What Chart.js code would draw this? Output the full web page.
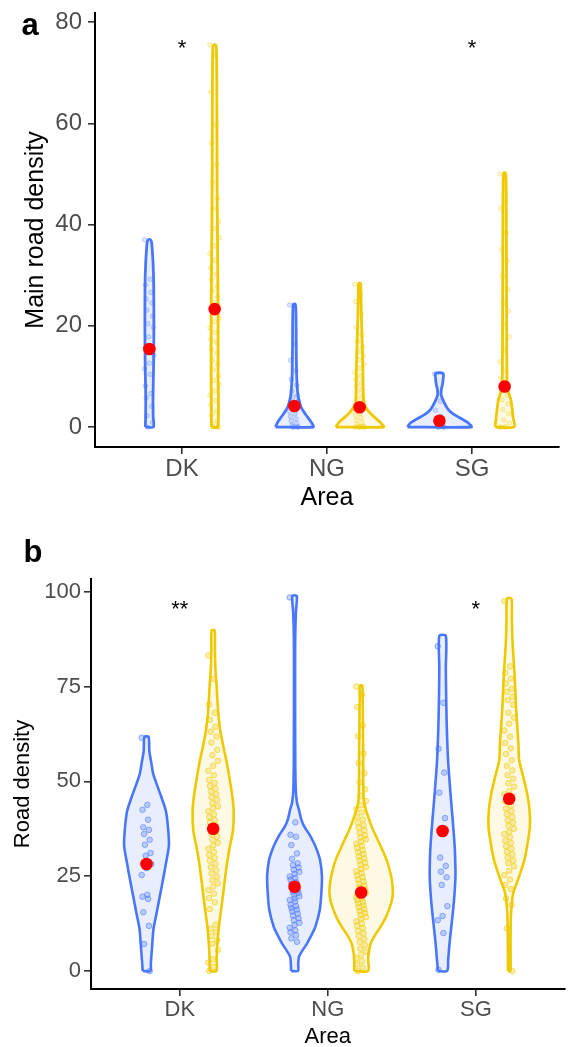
<!DOCTYPE html>
<html>
<head>
<meta charset="utf-8">
<script src="https://cdn.jsdelivr.net/npm/chart.js@4.4.1/dist/chart.umd.min.js"></script>
<style>
  html, body { margin: 0; padding: 0; background: #fff; overflow: hidden; }
  canvas { position: absolute; left: 0; }
</style>
</head>
<body>
<canvas id="chartA" width="571" height="520" style="top:0"></canvas>
<canvas id="chartB" width="571" height="540" style="top:520px"></canvas>
<script>
const areas = ["DK", "NG", "SG"];

// panel a: main road density
const mainTicks = [0, 20, 40, 60, 80];
const mainMeansBlue = [15.4, 4.15, 1.25];
const mainMeansGold = [23.3, 3.9, 8.0];
const mainSig = ["*", "", "*"];
const mainSigY = 75.9;

// violin outlines: [value, half width in category units]
const mainViolinBlue = [
  [[0, .028], [2, .026], [6, .025], [12, .029], [20, .031], [28, .030], [32, .026], [35, .020], [36.5, .015], [37, .008]],
  [[0, .13], [1, .115], [2, .09], [3, .065], [4, .045], [5.5, .03], [7, .022], [10, .016], [15, .013], [20, .012], [23.5, .010], [24.3, .005]],
  [[0, .22], [0.8, .2], [1.5, .16], [2.5, .1], [3.5, .06], [5, .03], [6.3, .012], [7.5, .014], [8.5, .022], [9.5, .026], [10.6, .026]]
];
const mainViolinGold = [
  [[0, .022], [10, .024], [20, .024], [30, .022], [40, .019], [50, .017], [60, .016], [70, .015], [75, .012], [75.5, .006]],
  [[0, .165], [1, .14], [2, .1], [3, .065], [4, .04], [5, .028], [8, .024], [12, .022], [16, .018], [20, .014], [25, .010], [28, .008], [28.4, .004]],
  [[0, .066], [2, .058], [4, .05], [5.5, .042], [6.5, .03], [8, .02], [10, .016], [20, .014], [30, .013], [40, .012], [49, .01], [50.2, .005]]
];
const mainPtsBlue = [
  [37.0, 29.2, 28.1, 26.6, 25.3, 24.5, 23.1, 21.9, 20.4, 19.7, 17.8, 14.2, 12.6, 11.5, 10.4, 8.1, 6.6, 5.8, 4.1, 2.2, 0.9, 0.0],
  [24.1, 16.4, 13.2, 11.1, 9.4, 8.2, 7.1, 6.3, 5.9, 5.2, 4.4, 3.9, 3.4, 3.1, 2.6, 2.1, 1.6, 1.2, 0.7, 0.4, 0.0, 0.0, 0.0, 0.0],
  [10.5, 5.1, 3.3, 2.1, 1.4, 0.9, 0.5, 0.2, 0.0, 0.0, 0.0, 0.0]
];
const mainPtsGold = [
  [75.5, 73.4, 66.2, 59.6, 56.1, 51.8, 48.3, 45.2, 43.1, 40.6, 39.2, 37.4, 35.8, 34.3, 32.9, 31.4, 30.2, 29.1, 27.8, 26.9, 25.7, 24.6, 23.8, 22.7, 21.5, 20.8, 19.6, 18.7, 17.4, 16.8, 15.3, 14.6, 13.2, 12.4, 11.3, 10.1, 9.2, 8.4, 7.1, 6.3, 5.2, 4.4, 3.1, 2.3, 1.2, 0.6, 0.0, 0.0, 0.0],
  [28.2, 26.1, 24.8, 22.3, 19.7, 18.2, 16.9, 15.8, 14.9, 14.1, 13.3, 12.4, 11.6, 10.8, 10.1, 9.4, 8.7, 8.1, 7.4, 6.9, 6.2, 5.7, 5.1, 4.6, 4.1, 3.6, 3.2, 2.7, 2.2, 1.8, 1.3, 0.9, 0.5, 0.2, 0.0, 0.0, 0.0, 0.0, 0.0, 0.0],
  [50.0, 44.6, 43.2, 38.4, 35.1, 32.8, 29.7, 27.2, 24.4, 22.9, 20.3, 17.8, 15.2, 12.9, 11.1, 9.6, 8.2, 7.1, 6.3, 5.4, 4.6, 3.4, 2.6, 1.4, 0.8, 0.0, 0.0, 0.0, 0.0]
];

// panel b: road density
const roadTicks = [0, 25, 50, 75, 100];
const roadMeansBlue = [28.2, 22.2, 36.9];
const roadMeansGold = [37.5, 20.7, 45.4];
const roadSig = ["**", "", "*"];
const roadSigY = 96.9;

const roadViolinBlue = [
  [[0, .026], [2, .029], [6, .037], [11, .047], [15, .067], [19.5, .089], [24, .111], [28.5, .132], [33, .151], [37, .147], [42, .132], [46, .099], [50, .062], [52, .045], [55, .032], [58, .019], [61.7, .014]],
  [[0, .023], [2, .025], [3.8, .03], [5.5, .055], [7.3, .085], [9.5, .115], [11.7, .141], [16, .17], [20.5, .181], [25, .185], [29.3, .172], [32, .15], [33.8, .13], [36, .1], [38, .067], [40, .045], [42.5, .03], [44.5, .016], [48, .008], [55, .005], [70, .004], [85, .004], [91, .006], [95, .01], [98.9, .015]],
  [[0, .031], [3, .038], [7.3, .047], [12, .06], [16, .071], [20, .08], [25, .087], [30, .085], [34, .08], [40, .068], [47, .053], [55.7, .037], [65, .028], [73, .024], [80, .022], [88.4, .022]]
];
const roadViolinGold = [
  [[0, .023], [3, .024], [6, .027], [11, .037], [15, .05], [19.5, .065], [24, .079], [28.5, .094], [33, .114], [37, .134], [42, .139], [46, .13], [50, .114], [55, .092], [59, .07], [63, .05], [68, .035], [72, .028], [75, .024], [80, .015], [85, .012], [89.8, .01]],
  [[0, .047], [3, .047], [5, .052], [7.3, .065], [9.5, .095], [11.7, .132], [14, .165], [16.1, .187], [18.5, .207], [20.5, .214], [22.5, .212], [24.9, .203], [29.3, .172], [33.8, .121], [38, .072], [42.5, .032], [45, .018], [50, .014], [56, .014], [65, .012], [72, .01], [75.2, .008]],
  [[0, .008], [6, .009], [11.7, .01], [16.1, .014], [20.5, .027], [24.9, .067], [29.3, .103], [33.8, .125], [38, .14], [42.6, .137], [47, .12], [51.2, .095], [55.7, .067], [60.2, .062], [68.9, .047], [77.6, .037], [86.5, .023], [93, .018], [98.2, .015]]
];
const roadPtsBlue = [
  [61.5, 43.8, 42.5, 39.9, 37.9, 37.2, 36.1, 34.6, 33.3, 31.1, 30.4, 28.2, 27.1, 25.3, 20.1, 19.6, 19.0, 15.5, 11.9, 7.1, 0.0],
  [98.5, 39.2, 35.9, 35.4, 33.2, 31.0, 29.6, 28.4, 27.9, 27.3, 26.7, 26.1, 25.6, 24.9, 24.5, 24.1, 23.4, 22.9, 22.6, 21.8, 21.4, 20.9, 20.6, 20.1, 19.7, 19.1, 18.7, 18.3, 17.5, 17.1, 16.6, 16.2, 15.7, 15.1, 14.6, 13.9, 13.4, 12.7, 12.1, 11.4, 10.7, 10.2, 9.4, 8.6, 7.7],
  [85.6, 70.7, 58.6, 52.3, 47.0, 40.3, 29.9, 27.7, 26.2, 24.7, 22.7, 17.1, 14.5, 13.4, 10.0, 0.3]
];
const roadPtsGold = [
  [83.2, 77.0, 70.3, 68.1, 66.2, 64.4, 63.1, 61.8, 60.2, 58.3, 56.9, 55.4, 54.1, 52.8, 51.6, 50.4, 49.6, 48.8, 48.1, 47.3, 46.6, 45.8, 45.1, 44.3, 43.4, 42.9, 42.1, 41.3, 40.6, 39.8, 39.2, 38.4, 37.7, 36.9, 36.2, 35.3, 34.6, 33.8, 33.1, 32.2, 31.4, 30.6, 29.8, 29.1, 28.2, 27.4, 26.5, 25.7, 24.8, 23.9, 23.1, 22.2, 21.3, 20.4, 19.2, 18.1, 16.3, 12.2, 11.1, 10.3, 9.2, 8.1, 7.2, 5.6, 3.1, 2.2, 1.1, 0.0],
  [75.0, 72.8, 69.6, 64.7, 61.9, 57.3, 54.8, 52.1, 49.7, 47.9, 46.2, 44.8, 43.7, 42.6, 41.8, 40.7, 39.9, 39.1, 38.4, 37.8, 37.1, 36.4, 35.8, 35.2, 34.7, 34.1, 33.6, 33.0, 32.5, 31.9, 31.3, 30.8, 30.2, 29.7, 29.1, 28.6, 28.0, 27.4, 26.9, 26.3, 25.8, 25.2, 24.7, 24.1, 23.6, 23.0, 22.5, 22.0, 21.5, 21.0, 20.6, 20.1, 19.6, 19.2, 18.7, 18.2, 17.8, 17.3, 16.8, 16.3, 15.8, 15.3, 14.8, 14.2, 13.7, 13.1, 12.5, 11.9, 11.3, 10.6, 9.9, 9.2, 8.4, 7.6, 6.8, 5.9, 5.1, 4.3, 3.4, 2.6, 1.7, 0.9, 0.0],
  [97.5, 80.3, 78.6, 77.1, 75.8, 74.4, 73.6, 72.3, 71.4, 70.2, 68.1, 66.8, 65.2, 63.4, 61.8, 60.1, 58.7, 57.2, 55.6, 54.1, 52.9, 51.6, 50.7, 49.5, 48.6, 47.4, 46.6, 45.5, 44.7, 43.6, 42.8, 42.1, 41.3, 40.6, 39.7, 39.1, 38.3, 37.5, 36.7, 36.1, 35.3, 34.4, 33.7, 32.9, 32.2, 31.4, 30.7, 29.9, 29.1, 28.4, 27.6, 26.4, 25.3, 24.1, 22.7, 21.6, 19.1, 17.4, 11.2, 0.0]
];

const BLUE = "#4876FF";
const GOLD = "#EEC900";
const DODGE = 0.225;

Chart.defaults.font.family = "'Liberation Sans', Arial, sans-serif";

function violinShape(center, profile) {
  var left = profile.map(p => ({ x: center - p[1], y: p[0] }));
  var right = profile.slice().reverse().map(p => ({ x: center + p[1], y: p[0] }));
  return left.concat(right, [left[0]]);
}

// small fixed horizontal spread for the points
function jitter(i) {
  return (((i * 7) % 13) / 12 - 0.5) * 0.065;
}

function buildDatasets(p) {
  var ds = [];
  var means = [];
  areas.forEach((a, i) => {
    means.push({ x: i + 1 - DODGE, y: p.meansBlue[i] });
    means.push({ x: i + 1 + DODGE, y: p.meansGold[i] });
  });
  ds.push({ type: "scatter", data: means, pointRadius: 6.3, backgroundColor: "#FF0000", borderWidth: 0, order: 0 });

  [[p.ptsBlue, -DODGE, "72,118,255"], [p.ptsGold, DODGE, "238,201,0"]].forEach(g => {
    var pts = [];
    g[0].forEach((vals, i) => {
      vals.forEach((v, k) => pts.push({ x: i + 1 + g[1] + jitter(k), y: v }));
    });
    ds.push({
      type: "scatter", data: pts, pointRadius: p.ptRadius, borderWidth: 1,
      backgroundColor: "rgba(" + g[2] + "," + p.ptFill + ")",
      borderColor: "rgba(" + g[2] + "," + p.ptLine + ")", order: 1
    });
  });

  [[p.violinBlue, -DODGE, BLUE, "rgba(72,118,255,0.12)"], [p.violinGold, DODGE, GOLD, "rgba(238,201,0,0.1)"]].forEach(g => {
    g[0].forEach((prof, i) => {
      ds.push({
        type: "line", data: violinShape(i + 1 + g[1], prof), fill: "shape",
        borderColor: g[2], backgroundColor: g[3], borderWidth: p.lineW,
        borderJoinStyle: "round", pointRadius: 0, tension: 0.25, order: 2
      });
    });
  });
  return ds;
}

const annotate = {
  id: "annotate",
  afterDatasetsDraw(chart, args, o) {
    const { ctx, scales } = chart;
    ctx.save();
    ctx.fillStyle = "#000";
    ctx.textAlign = "center";
    ctx.textBaseline = "alphabetic";
    ctx.font = "bold 31px 'Liberation Sans', Arial, sans-serif";
    ctx.fillText(o.letter, o.letterX, o.letterY);
    ctx.font = "22px 'Liberation Sans', Arial, sans-serif";
    o.sig.forEach((s, i) => {
      if (!s) return;
      ctx.fillText(s, scales.x.getPixelForValue(i + 1), scales.y.getPixelForValue(o.sigY) + 12.5);
    });
    ctx.restore();
  }
};

function makePanel(id, p) {
  return new Chart(document.getElementById(id), {
    type: "scatter",
    data: { datasets: buildDatasets(p) },
    plugins: [annotate],
    options: {
      responsive: false,
      animation: false,
      events: [],
      layout: { padding: p.pad },
      plugins: {
        legend: { display: false },
        tooltip: { enabled: false },
        annotate: { letter: p.letter, letterX: p.letterX, letterY: p.letterY, sig: p.sig, sigY: p.sigY }
      },
      scales: {
        x: {
          type: "linear", min: 0.4, max: 3.6,
          afterBuildTicks: s => { s.ticks = areas.map((a, i) => ({ value: i + 1 })); },
          afterFit: s => { s.height = p.xHeight; s.paddingLeft = 0; s.paddingRight = 0; },
          ticks: { callback: (v, i) => areas[i], color: "#4D4D4D", font: { size: p.font }, padding: p.xTickPad, maxRotation: 0, autoSkip: false },
          grid: { drawOnChartArea: false, drawTicks: true, tickLength: 7, color: "#333333", lineWidth: 1.6 },
          border: { display: true, color: "#000000", width: 2 },
          title: { display: true, text: "Area", color: "#000000", font: { size: p.titleFont }, padding: { top: 0, bottom: p.xTitlePad } }
        },
        y: {
          type: "linear", min: p.yMin, max: p.yMax,
          afterBuildTicks: s => { s.ticks = p.ticks.map(v => ({ value: v })); },
          afterFit: s => { s.width = p.yWidth; s.paddingTop = 0; s.paddingBottom = 0; },
          ticks: { color: "#4D4D4D", font: { size: p.font }, padding: p.yTickPad },
          grid: { drawOnChartArea: false, drawTicks: true, tickLength: 7, color: "#333333", lineWidth: 1.6 },
          border: { display: true, color: "#000000", width: 2 },
          title: { display: true, text: p.yTitle, color: "#000000", font: { size: p.titleFont }, padding: { top: p.yTitlePad, bottom: 0 } }
        }
      }
    }
  });
}

makePanel("chartA", {
  meansBlue: mainMeansBlue, meansGold: mainMeansGold,
  ptsBlue: mainPtsBlue, ptsGold: mainPtsGold,
  violinBlue: mainViolinBlue, violinGold: mainViolinGold,
  ticks: mainTicks, sig: mainSig, sigY: mainSigY,
  yMin: -3.95, yMax: 81.8, yTitle: "Main road density",
  ptRadius: 2.3, ptFill: 0.18, ptLine: 0.3, lineW: 2.8,
  font: 24, titleFont: 25, pad: { left: 0, right: 12, top: 13, bottom: 0 },
  xHeight: 73, yWidth: 95, xTickPad: 1, xTitlePad: 7, yTickPad: 6, yTitlePad: 21,
  letter: "a", letterX: 30, letterY: 35
});

makePanel("chartB", {
  meansBlue: roadMeansBlue, meansGold: roadMeansGold,
  ptsBlue: roadPtsBlue, ptsGold: roadPtsGold,
  violinBlue: roadViolinBlue, violinGold: roadViolinGold,
  ticks: roadTicks, sig: roadSig, sigY: roadSigY,
  yMin: -4.75, yMax: 103.35, yTitle: "Road density",
  ptRadius: 2.8, ptFill: 0.3, ptLine: 0.55, lineW: 2.6,
  font: 22, titleFont: 22, pad: { left: 0, right: 1, top: 59, bottom: 0 },
  xHeight: 71, yWidth: 91, xTickPad: 1, xTitlePad: 10, yTickPad: 3, yTitlePad: 10,
  letter: "b", letterX: 33, letterY: 42
});
</script>
</body>
</html>
